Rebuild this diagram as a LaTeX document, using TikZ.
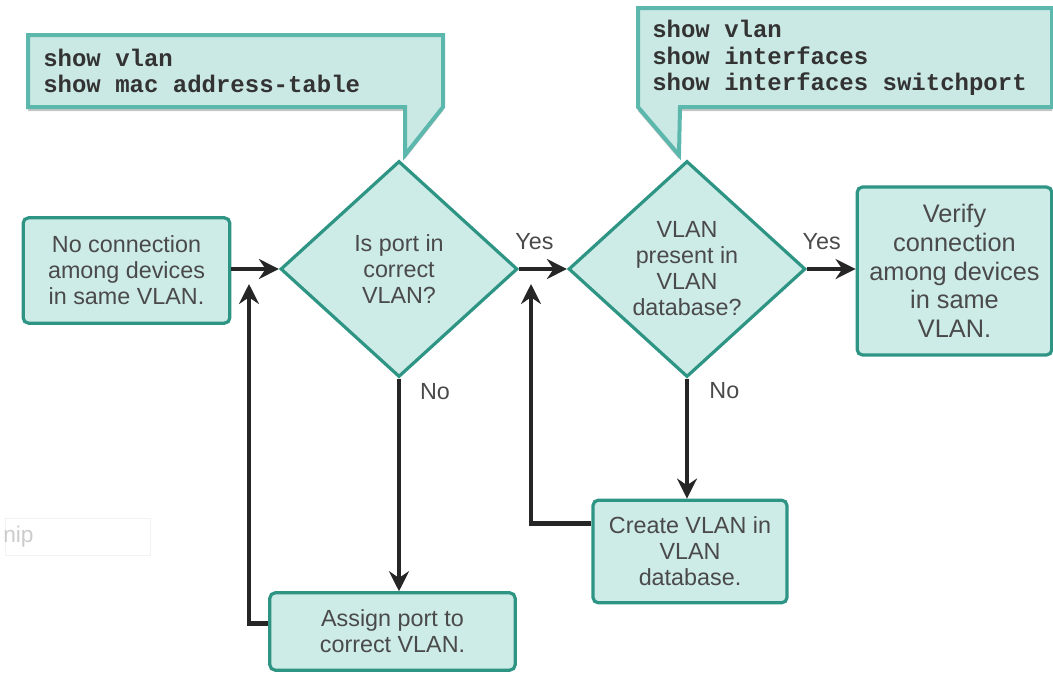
\documentclass[tikz,border=0pt]{standalone}
\usepackage{fontspec}
\setmainfont{Liberation Sans}
\setmonofont{Liberation Mono}
\usetikzlibrary{shapes.geometric,arrows.meta,shadows}
\definecolor{boxfill}{HTML}{CDEBE7}
\definecolor{boxline}{HTML}{2E9585}
\definecolor{notefill}{HTML}{CBE9E4}
\definecolor{noteline}{HTML}{5CB8AC}
\definecolor{ink}{HTML}{4A4A4A}
\definecolor{arrowink}{HTML}{262626}
\begin{document}
\begin{tikzpicture}[x=0.75pt,y=-0.75pt,
    stepbox/.style={draw=boxline,fill=boxfill,line width=2.4pt,rounded corners=4pt,
      text=ink,align=center,inner sep=0pt,font=\fontsize{17.5}{19.5}\selectfont},
    decision/.style={diamond,draw=boxline,fill=boxfill,line width=2.4pt,text=ink,
      align=center,inner sep=0pt,minimum width=177.75pt,minimum height=162pt,
      font=\fontsize{17.5}{19.5}\selectfont},
    flow/.style={draw=arrowink,line width=3.6pt,-{Stealth[length=15pt,width=15pt,inset=5pt]}},
    answer/.style={text=ink,inner sep=0pt,font=\fontsize{17.5}{19.5}\selectfont},
    callout/.style={draw=noteline,fill=notefill,line width=3pt,
      drop shadow={shadow xshift=0pt,shadow yshift=-3pt,opacity=0.45}},
    cmd/.style={anchor=west,align=left,inner sep=0pt,text=black!80,
      font=\fontsize{18}{20}\selectfont\ttfamily\bfseries}]

\useasboundingbox (0,0) rectangle (1053,672);

% faded leftover on the left
\draw[gray!10] (5,518) rectangle (150,555);
\node[anchor=west,inner sep=0pt,text=gray!40,font=\fontsize{17}{19}\selectfont] (ghost) at (3,537) {nip};

% command callouts
\path[callout] (28,35) -- (443,35) -- (443,107) -- (405,155) -- (405,107) -- (28,107) -- cycle;
\node[cmd] (cmdA) at (43,71) {show vlan\\show mac address-table};
\path[callout] (638,8) -- (1052,8) -- (1052,107) -- (680,107) -- (679,155) -- (638,107) -- cycle;
\node[cmd] (cmdB) at (652,58) {show vlan\\show interfaces\\show interfaces switchport};

% steps
\node[stepbox,minimum width=155pt,minimum height=79pt] (start) at (126.5,270.5)
  {No connection\\among devices\\in same VLAN.};
\node[decision] (portok) at (399,269) {Is port in\\correct\\VLAN?};
\node[decision] (vlanok) at (687,269) {VLAN\\present in\\VLAN\\database?};
\node[stepbox,minimum width=146pt,minimum height=126pt,font=\fontsize{19}{21.5}\selectfont]
  (verify) at (954.5,271) {Verify\\connection\\among devices\\in same\\VLAN.};
\node[stepbox,minimum width=184pt,minimum height=58pt] (assign) at (392.5,631.5)
  {Assign port to\\correct VLAN.};
\node[stepbox,minimum width=145.5pt,minimum height=77pt] (create) at (690,551.5)
  {Create VLAN in\\VLAN\\database.};

\coordinate (backA) at (249,284);
\coordinate (backB) at (531,284);

% arrows
\draw[flow] (start.east |- portok.west) -- (portok.west);
\draw[flow] (portok.east) -- (vlanok.west) node[answer,pos=0.32,above=13pt] {Yes};
\draw[flow] (vlanok.east) -- (vlanok.east -| verify.west) node[answer,pos=0.3,above=13pt] {Yes};
\draw[flow] (portok.south) -- (portok.south |- assign.north)
  node[answer,pos=0.06,anchor=west,xshift=14pt] {No};
\draw[flow] (vlanok.south) -- (vlanok.south |- create.north)
  node[answer,pos=0.1,anchor=west,xshift=15pt] {No};
\draw[flow] ([yshift=6pt]assign.west) -| (backA);
\draw[flow] ([yshift=21pt]create.west) -| (backB);

\end{tikzpicture}
\end{document}
